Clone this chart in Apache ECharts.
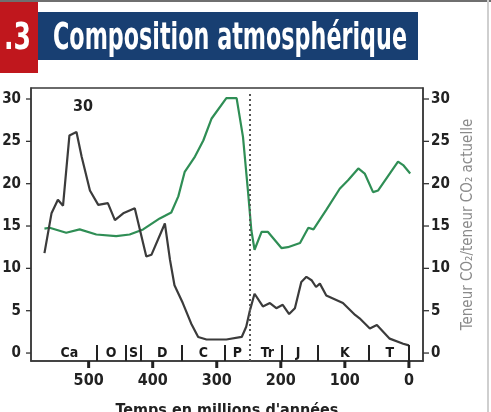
<!DOCTYPE html>
<html>
<head>
<meta charset="utf-8">
<script src="https://cdn.jsdelivr.net/npm/echarts@6/dist/echarts.min.js"></script>
<style>
html,body{margin:0;padding:0;background:#fff;}
#c{width:491px;height:412px;}
</style>
</head>
<body>
<div id="c"></div>
<script>
// ---- data ----
const titleNumber = '.3';
const titleText = 'Composition atmosphérique';
const xAxisName = "Temps en millions d'années";
const rightAxisName = 'Teneur CO₂/teneur CO₂ actuelle';
const annotationText = '30';

const xTicks = [500, 400, 300, 200, 100, 0];
const yTicks = [0, 5, 10, 15, 20, 25, 30];

const blackYears = [569,558,548,540,530,519,511,498,485,470,459,446,428,410,402,381,373,366,353,340,329,316,285,261,254,248,241,228,217,207,197,187,178,168,160,152,145,139,129,103,84,77,61,50,30,9,0];
const blackValues = [11.8,16.5,18.1,17.4,25.7,26.1,23.2,19.2,17.5,17.7,15.7,16.5,17.1,11.4,11.6,15.3,11.0,8.0,5.9,3.5,1.9,1.6,1.6,1.9,3.1,5.1,7.0,5.5,5.9,5.3,5.7,4.6,5.3,8.4,9.0,8.6,7.8,8.2,6.8,5.9,4.5,4.1,2.9,3.3,1.7,1.1,0.9];

const greenYears = [569,561,535,514,488,457,436,415,389,371,360,350,334,321,308,285,269,259,251,246,241,230,220,199,189,170,157,149,129,108,95,79,69,56,48,17,9,-2];
const greenValues = [14.7,14.8,14.2,14.6,14.0,13.8,14.0,14.6,15.9,16.6,18.5,21.4,23.2,25.1,27.7,30.1,30.1,25.5,18.9,14.5,12.2,14.3,14.3,12.4,12.5,13.0,14.8,14.6,16.9,19.4,20.4,21.8,21.2,19.0,19.2,22.6,22.2,21.2];

const periodNames = ['Ca','O','S','D','C','P','Tr','J','K','T'];
const periodLabelYears = [530,465,430,385,321,268,221,173,100,30];
const boundaryYears = [488,442,418,354,287,199,142,62,0];
const permianTriassicYear = 248;

// ---- layout ----
const FONT = "'Liberation Sans Narrow','DejaVu Sans Condensed','Liberation Sans',sans-serif";
const gridLeft = 31, gridRight = 423, gridTop = 88, gridBottom = 361;
const yMin = -0.94, yMax = 31.3;
const xMin = -22, xMax = 590;

function measure(text, font) {
  const ctx = document.createElement('canvas').getContext('2d');
  ctx.font = font;
  return ctx.measureText(text).width;
}
const titleFont = 'bold 38px ' + FONT;
const titleScale = 354 / measure(titleText, titleFont);
const numScale = 27 / measure(titleNumber, titleFont);

const chart = echarts.init(document.getElementById('c'), null, {renderer: 'canvas'});

const boundaryLines = boundaryYears.map(y => [
  {coord: [y, yMin]}, {coord: [y, 0.95]}
]);

// tick marks drawn through the axis scales
function xTickItem(params, api) {
  const p = api.coord([api.value(0), yMin]);
  return {type: 'line', shape: {x1: p[0], y1: p[1], x2: p[0], y2: p[1] + 7},
    style: {stroke: '#222', lineWidth: 3}};
}
function yTickItem(side) {
  return function (params, api) {
    const xv = side === 'left' ? xMax : xMin;
    const p = api.coord([xv, api.value(0)]);
    const d = side === 'left' ? -5 : 6;
    return {type: 'line', shape: {x1: p[0], y1: p[1], x2: p[0] + d, y2: p[1]},
      style: {stroke: '#333', lineWidth: 1.3}};
  };
}
// period labels drawn through the axis scales
function periodLabelItem(params, api) {
  const p = api.coord([api.value(0), api.value(1)]);
  return {type: 'text', x: p[0], y: p[1],
    style: {text: periodNames[params.dataIndex], font: 'bold 14px ' + FONT, fill: '#1a1a1a',
      align: 'center', verticalAlign: 'middle'}};
}

chart.setOption({
  animation: false,
  textStyle: {fontFamily: FONT},
  grid: {
    left: gridLeft, right: 491 - gridRight, top: gridTop, bottom: 412 - gridBottom,
    outerBoundsMode: 'none', containLabel: false,
    show: true, borderColor: '#3a3a3a', borderWidth: 1.5, backgroundColor: 'transparent'
  },
  xAxis: {
    type: 'value', inverse: true, min: xMin, max: xMax,
    name: xAxisName, nameLocation: 'middle', nameGap: 42,
    nameTextStyle: {fontFamily: FONT, fontWeight: 'bold', fontSize: 16, color: '#222'},
    axisLine: {show: true, onZero: false, lineStyle: {color: '#3a3a3a', width: 1.5}},
    axisTick: {show: false},
    axisLabel: {show: true, customValues: xTicks, margin: 12, fontFamily: FONT, fontWeight: 'bold', fontSize: 16, color: '#222'},
    splitLine: {show: false}
  },
  yAxis: [
    {
      type: 'value', min: yMin, max: yMax, position: 'left',
      axisLine: {show: true, onZero: false, lineStyle: {color: '#3a3a3a', width: 1.5}},
      axisTick: {show: false},
      axisLabel: {show: true, customValues: yTicks, margin: 10, fontFamily: FONT, fontWeight: 'bold', fontSize: 15, color: '#222'},
      splitLine: {show: false}
    },
    {
      type: 'value', min: yMin, max: yMax, position: 'right',
      name: rightAxisName, nameLocation: 'middle', nameGap: 37,
      nameTextStyle: {fontFamily: FONT, fontSize: 15, color: '#8a8a8a'},
      axisLine: {show: true, onZero: false, lineStyle: {color: '#3a3a3a', width: 1.5}},
      axisTick: {show: false},
      axisLabel: {show: true, customValues: yTicks, margin: 8, fontFamily: FONT, fontWeight: 'bold', fontSize: 15, color: '#222'},
      splitLine: {show: false}
    }
  ],
  series: [
    {
      type: 'line', name: 'green', xAxisIndex: 0, yAxisIndex: 0,
      data: greenYears.map((y, i) => [y, greenValues[i]]),
      showSymbol: false, symbol: 'none', smooth: false,
      lineStyle: {color: '#2f8e55', width: 2.2}, z: 3
    },
    {
      type: 'line', name: 'black', xAxisIndex: 0, yAxisIndex: 0,
      data: blackYears.map((y, i) => [y, blackValues[i]]),
      showSymbol: false, symbol: 'none', smooth: false,
      lineStyle: {color: '#3b3b3b', width: 2.2}, z: 4
    },
    {
      type: 'custom', xAxisIndex: 0, yAxisIndex: 0, silent: true,
      data: periodLabelYears.map(y => [y, 0]),
      renderItem: periodLabelItem,
      markLine: {
        silent: true, symbol: ['none', 'none'], label: {show: false},
        lineStyle: {color: '#222', width: 2, type: 'solid'},
        data: boundaryLines
      },
      z: 5
    },
    {
      type: 'line', xAxisIndex: 0, yAxisIndex: 0, data: [],
      markLine: {
        silent: true, symbol: ['none', 'none'], label: {show: false},
        lineStyle: {color: '#555', width: 2, type: [2, 3]},
        data: [[{coord: [permianTriassicYear, yMin]}, {coord: [permianTriassicYear, 30.7]}]]
      }
    },
    {
      type: 'custom', xAxisIndex: 0, yAxisIndex: 0, clip: false, silent: true,
      data: xTicks.map(v => [v]), renderItem: xTickItem, z: 6
    },
    {
      type: 'custom', xAxisIndex: 0, yAxisIndex: 0, clip: false, silent: true,
      data: yTicks.map(v => [v]), renderItem: yTickItem('left'), z: 6
    },
    {
      type: 'custom', xAxisIndex: 0, yAxisIndex: 0, clip: false, silent: true,
      data: yTicks.map(v => [v]), renderItem: yTickItem('right'), z: 6
    }
  ],
  graphic: [
    {type: 'rect', shape: {x: 0, y: 2, width: 38, height: 71}, style: {fill: '#c0171d'}},
    {type: 'rect', shape: {x: 38, y: 12, width: 380, height: 48}, style: {fill: '#183f72'}},
    {type: 'text', x: 4, y: 39, scaleX: numScale,
      style: {text: titleNumber, font: titleFont, fill: '#ffffff', textAlign: 'left', verticalAlign: 'middle'}},
    {type: 'text', x: 53, y: 39, scaleX: titleScale,
      style: {text: titleText, font: titleFont, fill: '#ffffff', textAlign: 'left', verticalAlign: 'middle'}},
    {type: 'text', x: 83, y: 107,
      style: {text: annotationText, font: 'bold 16px ' + FONT, fill: '#222', textAlign: 'center', verticalAlign: 'middle'}},
    {type: 'line', shape: {x1: 0, y1: 1, x2: 491, y2: 1}, style: {stroke: '#6f6f6f', lineWidth: 2}},
    {type: 'line', shape: {x1: 488, y1: 0, x2: 488, y2: 412}, style: {stroke: '#cfcfcf', lineWidth: 2}}
  ]
});
</script>
</body>
</html>
